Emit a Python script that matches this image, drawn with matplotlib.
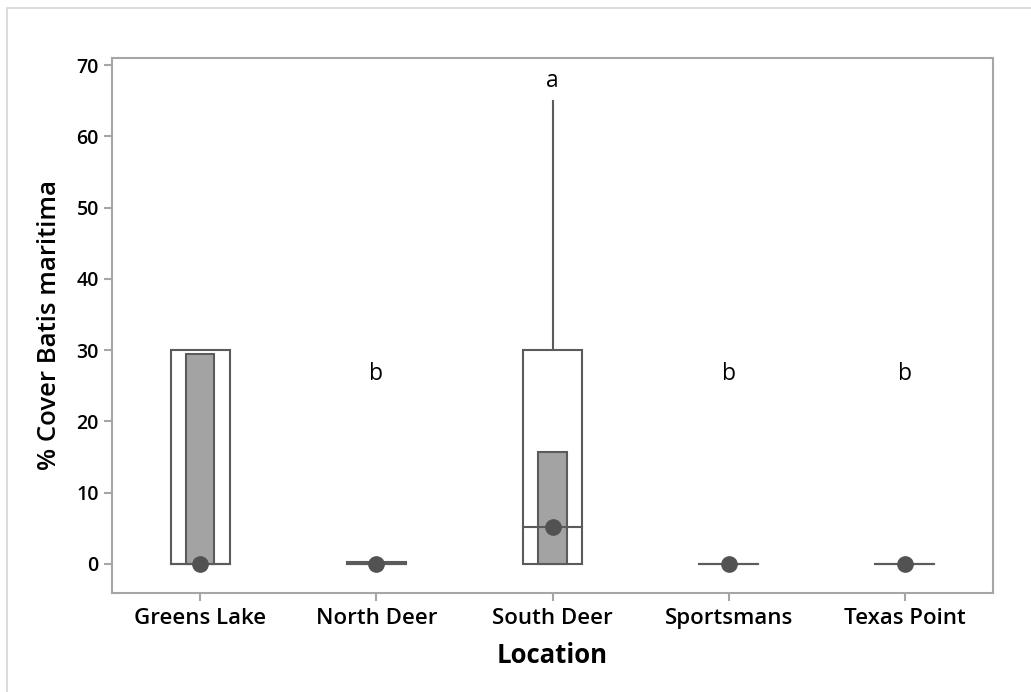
import matplotlib.pyplot as plt
from matplotlib.patches import Rectangle

plt.rcParams['font.family'] = ['Open Sans', 'DejaVu Sans']

locations = ['Greens Lake', 'North Deer', 'South Deer', 'Sportsmans', 'Texas Point']
q1 = [0, 0, 0, 0, 0]
q3 = [30, 0.25, 30, 0, 0]
medians = [0, 0, 5.1, 0, 0]
means = [29.4, 0.1, 15.7, 0, 0]
whisker_top = [30, 0.25, 65, 0, 0]
letters = ['', 'b', 'a', 'b', 'b']
letter_y = [None, 26.6, 67.8, 26.6, 26.6]

edge = '#5b5b5b'
bar_fill = '#a3a3a3'
dot = '#525252'
spine = '#a6a6a6'

fig = plt.figure(figsize=(10.31, 6.92), dpi=100)
ax = fig.add_axes([112 / 1031, 1 - 593 / 692, (993 - 112) / 1031, (593 - 58) / 692])

# light frame around the graph region
fig.patches.append(Rectangle((7 / 1031, -0.1), 1.2, 1 - 8 / 692 + 0.1,
                             transform=fig.transFigure, fill=False,
                             edgecolor='#d6d6d6', linewidth=1.2))

box_w = 0.334
bar_w = 0.16
for i in range(len(locations)):
    # whisker above the box
    if whisker_top[i] > q3[i]:
        ax.plot([i, i], [q3[i], whisker_top[i]], color=edge, lw=1.5, zorder=2)
    # interquartile box
    ax.add_patch(Rectangle((i - box_w / 2, q1[i]), box_w, q3[i] - q1[i],
                           facecolor='white', edgecolor=edge, lw=1.5, zorder=2))
    # mean bar
    if means[i] > 0:
        ax.add_patch(Rectangle((i - bar_w / 2, 0), bar_w, means[i],
                               facecolor=bar_fill, edgecolor=edge, lw=1.5, zorder=3))
    # median line and marker
    ax.plot([i - box_w / 2, i + box_w / 2], [medians[i], medians[i]],
            color=edge, lw=1.5, zorder=4)
    ax.plot(i, medians[i], 'o', color=dot, markersize=11, zorder=5)
    if letters[i]:
        ax.text(i, letter_y[i], letters[i], ha='center', va='center', fontsize=16.5)

ax.set_xlim(-0.5, 4.5)
ax.set_ylim(-4.1, 71)
ax.set_yticks(range(0, 71, 10))
ax.set_xticks(range(len(locations)))
ax.set_xticklabels(locations)

for s in ax.spines.values():
    s.set_color(spine)
    s.set_linewidth(1.5)
ax.tick_params(colors=spine, width=1.5, length=6, labelcolor='black')
ax.tick_params(axis='x', pad=5)
for lab in ax.get_xticklabels():
    lab.set_fontsize(16)
    lab.set_fontweight('semibold')
for lab in ax.get_yticklabels():
    lab.set_fontsize(14)
    lab.set_fontweight('semibold')

ax.set_xlabel('Location', fontsize=18.5, fontweight='bold', labelpad=9)
ax.set_ylabel('% Cover Batis maritima', fontsize=18.5, fontweight='semibold', labelpad=10)

fig.savefig('out.png', dpi=100)
